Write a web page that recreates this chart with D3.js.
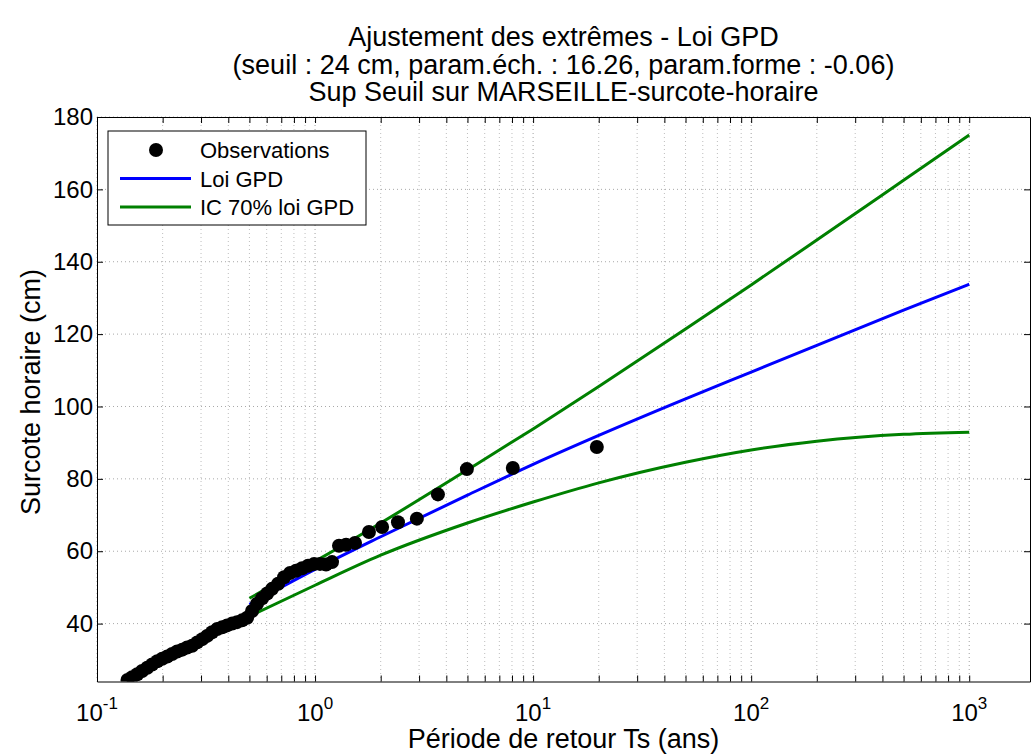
<!DOCTYPE html>
<html>
<head>
<meta charset="utf-8">
<script src="https://cdn.jsdelivr.net/npm/d3@7"></script>
<style>
  body { margin: 0; background: #fff; }
  svg { display: block; }
  text { font-family: "Liberation Sans", Arial, Helvetica, sans-serif; fill: #000; }
</style>
</head>
<body>
<svg id="chart" width="1032" height="756"></svg>
<script>
// ---- Chart text ----
const titleLines = [
  "Ajustement des extrêmes - Loi GPD",
  "(seuil : 24 cm, param.éch. : 16.26, param.forme : -0.06)",
  "Sup Seuil sur MARSEILLE-surcote-horaire"
];
const xLabel = "Période de retour Ts (ans)";
const yLabel = "Surcote horaire (cm)";
const legendLabels = ["Observations", "Loi GPD", "IC 70% loi GPD"];

// ---- Ticks ----
const xTickValues = [0.1, 1, 10, 100, 1000];
const xTickExponents = ["-1", "0", "1", "2", "3"];
const yTickValues = [40, 60, 80, 100, 120, 140, 160, 180];

// ---- Fitted GPD return levels (cm) and 70% confidence band ----
const returnPeriods = [0.5, 1, 2, 5, 10, 20, 50, 100, 200, 500, 1000];
const gpdLevel      = [45.3, 55, 64, 75.5, 84, 92, 102.1, 109.5, 116.9, 126.6, 133.8];
const icUpper       = [47, 57.2, 67.8, 82.5, 93.8, 105.5, 121.4, 133.6, 146, 162.5, 175];
const icLower       = [42, 50.6, 58.9, 67.8, 73.6, 78.9, 84.6, 88, 90.4, 92.3, 92.9];

// ---- Observed exceedances: return period (years) and surge (cm) ----
const obsPeriod = [
  19.6, 8.07, 4.97, 3.66, 2.93, 2.4, 2.03, 1.767, 1.525, 1.387, 1.288,
  1.196, 1.123, 1.054, 0.99, 0.929, 0.872, 0.818, 0.768, 0.721, 0.677,
  0.635, 0.603, 0.572, 0.542, 0.514, 0.488, 0.463, 0.439, 0.417, 0.395,
  0.375, 0.356, 0.337, 0.320, 0.304, 0.288, 0.273, 0.259, 0.246, 0.233,
  0.221, 0.210, 0.199, 0.189, 0.179, 0.170, 0.161, 0.153, 0.145, 0.138
];
const obsLevel = [
  88.8, 83, 82.7, 75.7, 69, 68, 66.7, 65.3, 62.3, 61.8, 61.5,
  57, 56.3, 56.5, 56.5, 56, 55.3, 54.6, 54, 52.8, 51,
  49.6, 48.3, 47, 45.5, 43.5, 41.6, 40.9, 40.4, 40, 39.5,
  39, 38.5, 37.6, 36.6, 35.7, 34.8, 33.9, 33.4, 32.8, 32.3,
  31.6, 30.9, 30.3, 29.6, 28.7, 27.8, 26.9, 26, 25.2, 24.4
];

// ---- Layout ----
const plot = { left: 97, right: 1030, top: 117, bottom: 681.5 };
const FONT_AXES = 24, FONT_LABEL = 27, FONT_TITLE = 27, FONT_LEGEND = 22;

const svg = d3.select("#chart");

const x = d3.scaleLog().domain([0.1, 1900]).range([plot.left, plot.right]);
const y = d3.scaleLinear().domain([24, 180]).range([plot.bottom, plot.top]);

// all log ticks (1..9 per decade) inside the domain
const xAllTicks = [];
for (let e = -1; e <= 3; e++) {
  for (let k = 1; k <= 9; k++) {
    const v = k * Math.pow(10, e);
    if (v >= 0.1 && v <= 1900) xAllTicks.push(+v.toPrecision(6));
  }
}

svg.append("defs").append("clipPath").attr("id", "plotClip")
  .append("rect")
  .attr("x", plot.left).attr("y", plot.top)
  .attr("width", plot.right - plot.left).attr("height", plot.bottom - plot.top);

// ---- Grid (dotted) ----
const grid = svg.append("g").attr("class", "grid");
grid.selectAll("line.gx").data(xAllTicks).join("line")
  .attr("class", "gx")
  .attr("x1", d => x(d)).attr("x2", d => x(d))
  .attr("y1", plot.top).attr("y2", plot.bottom)
  .attr("stroke", d => xTickValues.includes(d) ? "#a0a0a0" : "#bdbdbd")
  .attr("stroke-width", 1)
  .attr("stroke-dasharray", "1,3");
grid.selectAll("line.gy").data(yTickValues).join("line")
  .attr("class", "gy")
  .attr("x1", plot.left).attr("x2", plot.right)
  .attr("y1", d => y(d)).attr("y2", d => y(d))
  .attr("stroke", "#a8a8a8")
  .attr("stroke-width", 1)
  .attr("stroke-dasharray", "1,3");

// ---- Curves ----
const curveData = (vals) => returnPeriods.map((t, i) => [t, vals[i]]);
const line = d3.line()
  .x(d => x(d[0])).y(d => y(d[1]))
  .curve(d3.curveMonotoneX);

const marks = svg.append("g").attr("clip-path", "url(#plotClip)");
marks.append("path").datum(curveData(icUpper))
  .attr("d", line).attr("fill", "none")
  .attr("stroke", "#008000").attr("stroke-width", 3);
marks.append("path").datum(curveData(icLower))
  .attr("d", line).attr("fill", "none")
  .attr("stroke", "#008000").attr("stroke-width", 3);
marks.append("path").datum(curveData(gpdLevel))
  .attr("d", line).attr("fill", "none")
  .attr("stroke", "#0000ff").attr("stroke-width", 3);

// ---- Observations ----
marks.selectAll("circle.obs")
  .data(obsPeriod.map((t, i) => [t, obsLevel[i]]))
  .join("circle")
  .attr("class", "obs")
  .attr("cx", d => x(d[0])).attr("cy", d => y(d[1]))
  .attr("r", 7)
  .attr("fill", "#000");

// ---- Axes (ticks pointing inward on all four sides) ----
const axB = svg.append("g").attr("transform", `translate(0,${plot.bottom})`)
  .call(d3.axisBottom(x).tickValues(xAllTicks).tickSizeInner(-6).tickSizeOuter(0).tickFormat(""));
const axT = svg.append("g").attr("transform", `translate(0,${plot.top})`)
  .call(d3.axisTop(x).tickValues(xAllTicks).tickSizeInner(-6).tickSizeOuter(0).tickFormat(""));
const axL = svg.append("g").attr("transform", `translate(${plot.left},0)`)
  .call(d3.axisLeft(y).tickValues(yTickValues).tickSizeInner(-6).tickSizeOuter(0).tickPadding(4));
const axR = svg.append("g").attr("transform", `translate(${plot.right},0)`)
  .call(d3.axisRight(y).tickValues(yTickValues).tickSizeInner(-6).tickSizeOuter(0).tickFormat(""));

[axB, axT, axL, axR].forEach(g => {
  g.selectAll("path.domain").attr("stroke", "#000").attr("stroke-width", 1);
  g.selectAll(".tick line").attr("stroke", "#000").attr("stroke-width", 1);
});
axL.selectAll(".tick text")
  .attr("font-size", FONT_AXES)
  .attr("font-family", "Liberation Sans, Arial, sans-serif")
  .attr("fill", "#000");

// x tick labels as powers of ten
const xLab = svg.append("g");
xTickValues.forEach((v, i) => {
  const t = xLab.append("text")
    .attr("x", x(v)).attr("y", 721)
    .attr("text-anchor", "middle")
    .attr("font-size", FONT_AXES);
  t.append("tspan").text("10");
  t.append("tspan").attr("dy", -12).attr("font-size", 17).text(xTickExponents[i]);
});

// ---- Axis titles ----
svg.append("text")
  .attr("x", (plot.left + plot.right) / 2).attr("y", 748)
  .attr("text-anchor", "middle").attr("font-size", FONT_LABEL)
  .text(xLabel);
svg.append("text")
  .attr("transform", `translate(40,392) rotate(-90)`)
  .attr("text-anchor", "middle").attr("font-size", FONT_LABEL)
  .text(yLabel);

// ---- Title ----
svg.append("g").selectAll("text").data(titleLines).join("text")
  .attr("x", (plot.left + plot.right) / 2)
  .attr("y", (d, i) => 46 + i * 27.5)
  .attr("text-anchor", "middle").attr("font-size", FONT_TITLE)
  .text(d => d);

// ---- Legend ----
const lg = svg.append("g");
lg.append("rect")
  .attr("x", 108).attr("y", 131).attr("width", 258).attr("height", 94)
  .attr("fill", "#fff").attr("stroke", "#000").attr("stroke-width", 1);
const legendRows = [
  { label: legendLabels[0], type: "dot", color: "#000" },
  { label: legendLabels[1], type: "line", color: "#0000ff" },
  { label: legendLabels[2], type: "line", color: "#008000" }
];
legendRows.forEach((r, i) => {
  const cy = 150 + i * 28.5;
  if (r.type === "dot") {
    lg.append("circle").attr("cx", 156).attr("cy", cy).attr("r", 7).attr("fill", r.color);
  } else {
    lg.append("line").attr("x1", 120).attr("x2", 191).attr("y1", cy).attr("y2", cy)
      .attr("stroke", r.color).attr("stroke-width", 3);
  }
  lg.append("text").attr("x", 200).attr("y", cy + 8).attr("font-size", FONT_LEGEND).text(r.label);
});
</script>
</body>
</html>
